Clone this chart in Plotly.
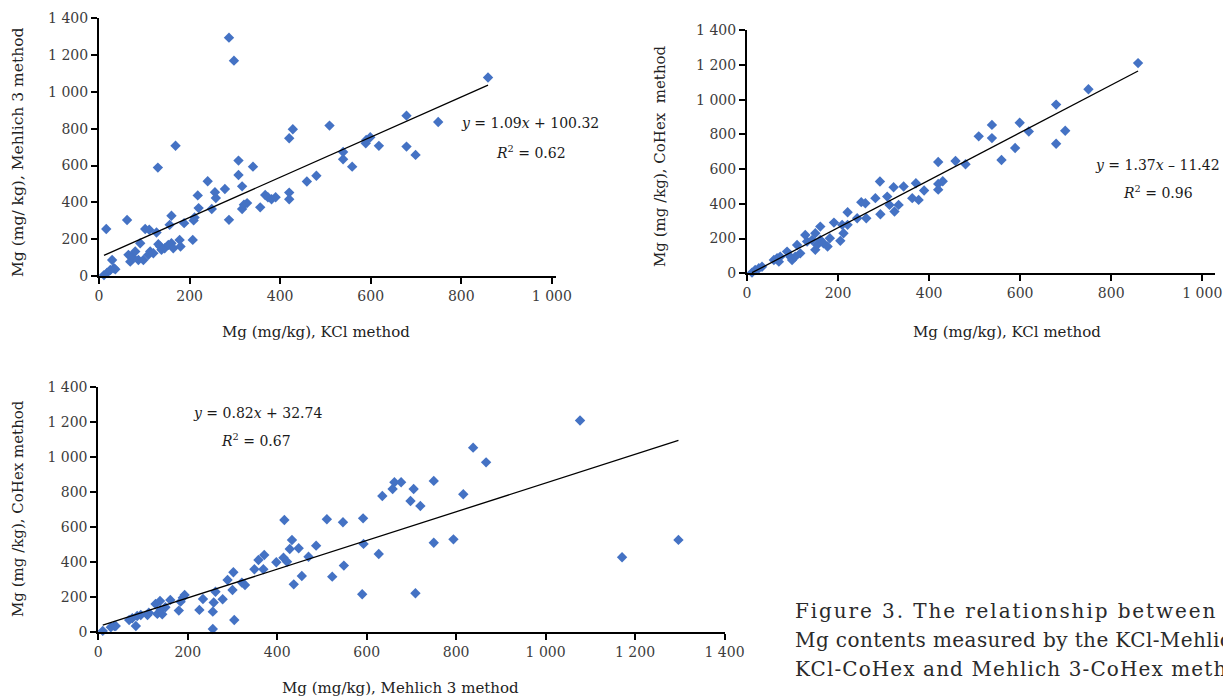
import numpy as np
import plotly.graph_objects as go

# the page body adds an 8 px offset around the figure; size the figure so that it
# fills exactly the visible 1231x699 window and compensate the offset
OFF_X, OFF_Y = 8, 8
W, H = 1231 - OFF_X, 699 - OFF_Y

# ---------------- data ----------------
# Panel A: KCl method (x) vs Mehlich 3 method (y)
kcl_a = [11, 18, 25, 33, 36, 29, 16, 62, 65, 69, 73, 80, 87, 91, 98, 102, 111, 109, 113, 120,
         127, 131, 135, 138, 145, 153, 160, 156, 160, 164, 178, 180, 188, 207, 209, 211, 218, 220,
         240, 249, 256, 258, 278, 287, 316, 316, 320, 327, 356,
         130, 169, 287, 298, 308, 308, 340, 367, 373, 381, 390, 420, 420, 420, 428, 459, 480,
         509, 539, 539, 559, 589, 590, 599, 618, 679, 679, 699, 749, 859]
m3_a = [5, 18, 33, 42, 36, 87, 255, 304, 115, 78, 105, 133, 87, 178, 87, 255, 251, 115, 133, 124,
        236, 173, 160, 142, 151, 169, 327, 278, 178, 151, 196, 160, 287, 196, 302, 318, 438, 369,
        515, 364, 455, 424, 473, 305, 487, 364, 387, 396, 373,
        589, 708, 1295, 1170, 627, 549, 594, 440, 428, 417, 428, 748, 453, 417, 797, 513, 545,
        817, 674, 634, 594, 721, 739, 754, 707, 871, 703, 658, 837, 1078]

# Panel B: KCl method (x) vs CoHex method (y)
kcl_b = [11, 18, 26, 33, 59, 66, 70, 73, 88, 95, 99, 106, 110, 117, 128, 132, 143, 150, 154, 150,
         161, 161, 168, 177, 182, 191, 205, 212, 209, 221, 221, 242, 251, 260, 262, 282, 293, 292,
         308, 313, 322, 324, 333, 344, 363, 371, 377,
         389, 420, 420, 430, 420, 458, 480, 509, 538, 538, 559, 589, 599, 619, 679, 679, 699, 750, 859]
cohex_b = [4, 19, 29, 38, 77, 87, 67, 96, 125, 96, 77, 96, 163, 115, 221, 183, 192, 135, 163, 231,
           269, 192, 173, 154, 202, 292, 187, 231, 279, 352, 279, 317, 410, 404, 317, 433, 340, 529,
           442, 394, 496, 356, 394, 500, 433, 519, 423,
           477, 482, 515, 530, 641, 647, 628, 789, 779, 855, 653, 722, 867, 817, 746, 972, 821, 1060, 1211]

# Panel C: Mehlich 3 method (x) vs CoHex method (y)
m3_c = [10, 28, 36, 39, 69, 76, 84, 87, 95, 110, 113, 128, 138, 132, 143, 139, 150, 161, 180, 184,
        189, 193, 226, 234, 256, 258, 256, 262, 278, 289, 300, 302, 304, 321, 328, 349, 358, 369,
        371, 398,
        416, 433, 428, 448, 414, 422, 487, 470, 455, 437, 511, 547, 523, 549, 592, 593, 590, 627,
        635, 658, 662, 677, 705, 698, 720, 750, 816, 750, 794, 709, 838, 867, 1077, 1171, 1297]
cohex_c = [8, 29, 36, 36, 70, 80, 36, 93, 99, 99, 112, 162, 179, 105, 103, 128, 143, 185, 124, 175,
           198, 213, 128, 190, 19, 170, 118, 232, 189, 299, 242, 343, 70, 284, 270, 360, 413, 360,
           442, 400,
           642, 527, 476, 480, 426, 403, 495, 432, 322, 274, 646, 629, 318, 381, 651, 505, 217, 447,
           779, 819, 857, 857, 819, 750, 722, 865, 789, 512, 531, 223, 1055, 971, 1210, 429, 528]

# regression lines (slope, intercept) and their labels
trend_a = (1.09, 100.32)
trend_b = (1.37, -11.42)
trend_c = (0.82, 32.74)
eq_a = ["<i>y</i> = 1.09<i>x</i> + 100.32", "<i>R</i><sup>2</sup> = 0.62"]
eq_b = ["<i>y</i> = 1.37<i>x</i> \u2013 11.42", "<i>R</i><sup>2</sup> = 0.96"]
eq_c = ["<i>y</i> = 0.82<i>x</i> + 32.74", "<i>R</i><sup>2</sup> = 0.67"]

ticks_1000 = [0, 200, 400, 600, 800, 1000]
ticks_1400 = [0, 200, 400, 600, 800, 1000, 1200, 1400]

xtitle_a = "Mg (mg/kg), KCl method"
ytitle_a = "Mg (mg/ kg), Mehlich 3 method"
xtitle_b = "Mg (mg/kg), KCl method"
ytitle_b = "Mg (mg /kg), CoHex\u00a0 method"
xtitle_c = "Mg (mg/kg), Mehlich 3 method"
ytitle_c = "Mg (mg /kg), CoHex method"

caption = ["Figure 3. The relationship between the",
           "Mg contents measured by the KCl-Mehlich 3,",
           "KCl-CoHex and Mehlich 3-CoHex methods"]

# ---------------- helpers ----------------
def px(x):
    return (x - OFF_X) / W

def py(y):
    return 1 - (y - OFF_Y) / H

def fmt(v):
    return f"{v:,}".replace(",", " ")

SERIF = "DejaVu Serif"
BLUE = "#4472C4"
TICKCOL = "#3c3c3c"

fig = go.Figure()

panels = [
    (kcl_a, m3_a, trend_a, "x", "y"),
    (kcl_b, cohex_b, trend_b, "x2", "y2"),
    (m3_c, cohex_c, trend_c, "x3", "y3"),
]
for xs, ys, (m, b), xa, ya in panels:
    fig.add_trace(go.Scatter(
        x=xs, y=ys, mode="markers", xaxis=xa, yaxis=ya,
        marker=dict(symbol="diamond", size=8, color=BLUE, line=dict(width=0)),
        cliponaxis=False, showlegend=False, hoverinfo="skip"))
    lx = np.array([min(xs), max(xs)], dtype=float)
    fig.add_trace(go.Scatter(
        x=lx, y=m * lx + b, mode="lines", xaxis=xa, yaxis=ya,
        line=dict(color="black", width=1.3), cliponaxis=False,
        showlegend=False, hoverinfo="skip"))

def axis(domain, rng, ticks):
    return dict(domain=domain, range=rng, tickvals=ticks, ticktext=[fmt(t) for t in ticks],
                showline=True, linecolor="black", linewidth=2, mirror=False,
                ticks="outside", ticklen=6, tickwidth=1.5, tickcolor="black",
                showgrid=False, zeroline=False, fixedrange=True, automargin=False,
                tickfont=dict(family=SERIF, size=14, color=TICKCOL))

fig.update_layout(
    width=W, height=H, margin=dict(l=0, r=0, t=0, b=0, pad=0, autoexpand=False),
    paper_bgcolor="white", plot_bgcolor="white",
    xaxis=dict(axis([px(99), px(555.5)], [0, 1008], ticks_1000), anchor="y"),
    yaxis=dict(axis([py(276), py(18.3)], [0, 1400], ticks_1400), anchor="x"),
    xaxis2=dict(axis([px(747), px(1215)], [0, 1028], ticks_1000), anchor="y2"),
    yaxis2=dict(axis([py(273.3), py(30.3)], [0, 1400], ticks_1400), anchor="x2"),
    xaxis3=dict(axis([px(98.3), px(724.5)], [0, 1400], ticks_1400), anchor="y3"),
    yaxis3=dict(axis([py(632.3), py(387.3)], [0, 1400], ticks_1400), anchor="x3"),
)

annos = []

def txt(x, y, text, size=15, color="#222222", angle=0, xanchor="center", family=SERIF):
    annos.append(dict(x=px(x), y=py(y), xref="paper", yref="paper", text=text,
                      showarrow=False, xanchor=xanchor, yanchor="middle", textangle=angle,
                      font=dict(family=family, size=size, color=color)))

# axis titles
txt(316, 332, xtitle_a)
txt(18, 153, ytitle_a, angle=-90, size=15.5)
txt(1007, 332, xtitle_b)
txt(660, 156, ytitle_b, angle=-90)
txt(400, 688, xtitle_c)
txt(18, 509, ytitle_c, angle=-90)

# equations
txt(530, 123, eq_a[0], size=14, color="#1a1a1a")
txt(531, 152, eq_a[1], size=14, color="#1a1a1a")
txt(1222, 165, eq_b[0], size=14, color="#1a1a1a", xanchor="right")
txt(1158, 192, eq_b[1], size=14, color="#1a1a1a")
txt(257, 413, eq_c[0], size=14, color="#1a1a1a")
txt(256, 440, eq_c[1], size=14, color="#1a1a1a")

# caption (cut by the right edge, as in the source page)
CAPCOL = "#2a2a2a"
txt(793, 611, '<span style="letter-spacing:1.9px">' + caption[0] + '</span>', size=20,
    color=CAPCOL, xanchor="left")
txt(793, 640, '<span style="letter-spacing:0.4px">' + caption[1] + '</span>', size=20,
    color=CAPCOL, xanchor="left")
txt(793, 669, '<span style="letter-spacing:1.1px">' + caption[2] + '</span>', size=20,
    color=CAPCOL, xanchor="left")

fig.update_layout(annotations=annos)
fig.write_html("out.html")
